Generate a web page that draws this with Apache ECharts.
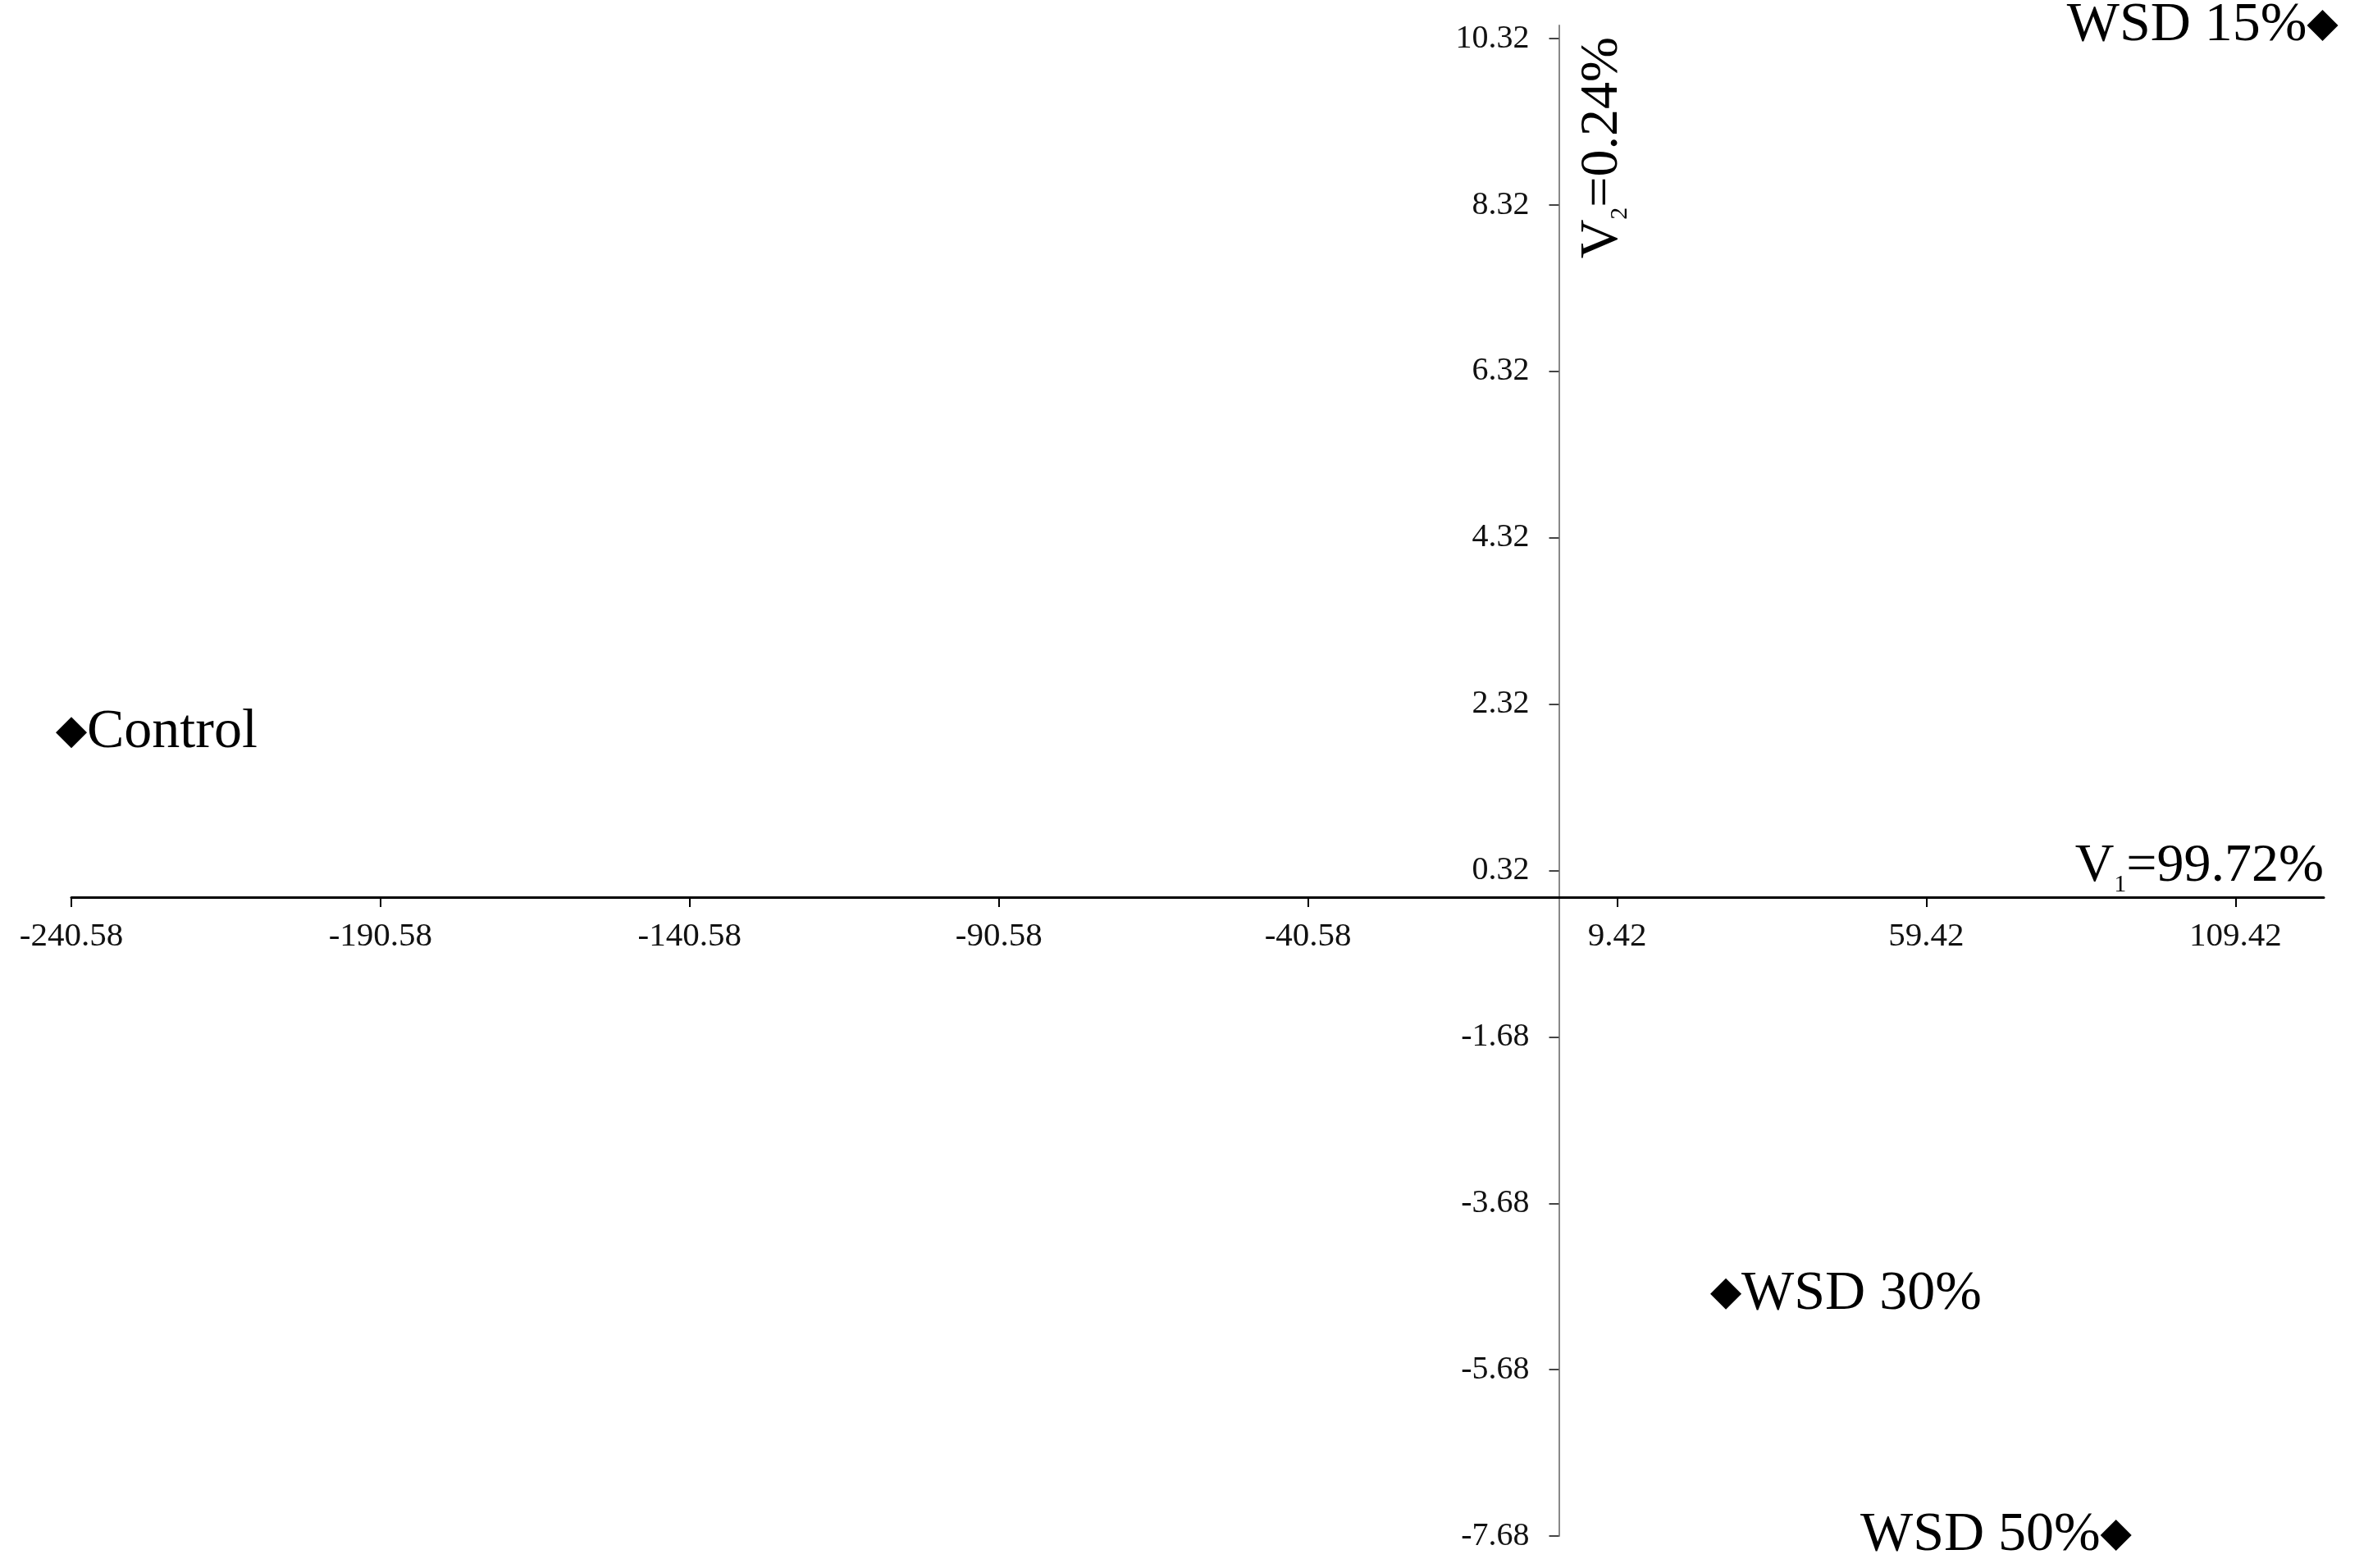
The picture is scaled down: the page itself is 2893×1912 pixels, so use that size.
<!DOCTYPE html>
<html>
<head>
<meta charset="utf-8">
<script src="https://cdn.jsdelivr.net/npm/echarts@6/dist/echarts.min.js"></script>
<style>
html,body{margin:0;padding:0;background:#fff;}
#chart{width:2893px;height:1912px;}
</style>
</head>
<body>
<div id="chart"></div>
<script>
// ---- data ----
const names = ['Control', 'WSD 15%', 'WSD 30%', 'WSD 50%'];
const v1 = [-240.58, 123.5, 27.0, 90.1];
const v2 = [1.98, 10.48, -4.77, -7.67];
const xTickValues = [-240.58, -190.58, -140.58, -90.58, -40.58, 9.42, 59.42, 109.42];
const yTickValues = [-7.68, -5.68, -3.68, -1.68, 0.32, 2.32, 4.32, 6.32, 8.32, 10.32];
const xAxisTitle = ['V', '1', '=99.72%'];
const yAxisTitle = ['V', '2', '=0.24%'];

// ---- style ----
const FONT = '"Liberation Serif", "Times New Roman", serif';
const labelSide = { 'Control': 'right', 'WSD 15%': 'left', 'WSD 30%': 'right', 'WSD 50%': 'left' };
const GRID = { left: 87, right: 60, top: 31, bottom: 39 };
const W = 2893, H = 1912;

const seriesData = names.map((n, i) => ({
  name: n,
  value: [v1[i], v2[i]],
  label: { position: labelSide[n] }
}));

const richTitle = {
  v: { fontFamily: FONT, fontSize: 66, color: '#000', lineHeight: 74 },
  s: { fontFamily: FONT, fontSize: 30, color: '#000', lineHeight: 74, verticalAlign: 'bottom' }
};

const chart = echarts.init(document.getElementById('chart'), null, { renderer: 'canvas' });
const option = {
  animation: false,
  backgroundColor: '#ffffff',
  grid: { left: GRID.left, right: GRID.right, top: GRID.top, bottom: GRID.bottom, containLabel: false, outerBoundsMode: 'none' },
  xAxis: {
    type: 'value',
    position: 'bottom',
    min: -240.58,
    max: 123.7,
    offset: 0,
    splitLine: { show: false },
    axisLine: { onZero: false, lineStyle: { color: '#000', width: 3 } },
    axisTick: { show: true, inside: false, length: 12, customValues: xTickValues, lineStyle: { color: '#000', width: 2 } },
    axisLabel: {
      customValues: xTickValues,
      margin: 28,
      fontFamily: FONT, fontSize: 41, color: '#111',
      formatter: v => v.toFixed(2)
    },
    name: '{v|' + xAxisTitle[0] + '}{s|' + xAxisTitle[1] + '}{v|' + xAxisTitle[2] + '}',
    nameLocation: 'end',
    nameGap: 0,
    nameTextStyle: { align: 'right', verticalAlign: 'bottom', rich: richTitle }
  },
  yAxis: {
    type: 'value',
    position: 'left',
    min: -7.68,
    max: 10.48,
    offset: 0,
    splitLine: { show: false },
    axisLine: { onZero: false, lineStyle: { color: '#888', width: 2 } },
    axisTick: { show: true, inside: false, length: 12, customValues: yTickValues, lineStyle: { color: '#444', width: 2 } },
    axisLabel: {
      customValues: yTickValues,
      margin: 36,
      fontFamily: FONT, fontSize: 40, color: '#111',
      formatter: v => v.toFixed(2)
    },
    name: '{v|' + yAxisTitle[0] + '}{s|' + yAxisTitle[1] + '}{v|' + yAxisTitle[2] + '}',
    nameLocation: 'end',
    nameRotate: 90,
    nameGap: -14,
    nameTextStyle: { align: 'right', verticalAlign: 'top', padding: [16, 0, 0, 0], rich: richTitle }
  },
  series: [{
    type: 'scatter',
    symbol: 'diamond',
    symbolSize: [38, 38],
    itemStyle: { color: '#000', opacity: 1 },
    label: {
      show: true,
      formatter: p => p.name,
      fontFamily: FONT, fontSize: 68, color: '#000',
      distance: 0
    },
    data: seriesData
  }]
};
chart.setOption(option);

// move both axes so they cross at the origin, using the library's own scale
const origin = chart.convertToPixel({ gridIndex: 0 }, [0, 0]);
const gridBottomY = H - GRID.bottom;
const gridLeftX = GRID.left;
chart.setOption({
  xAxis: { offset: -(gridBottomY - origin[1]) },
  yAxis: { offset: -(origin[0] - gridLeftX) }
});
</script>
</body>
</html>
